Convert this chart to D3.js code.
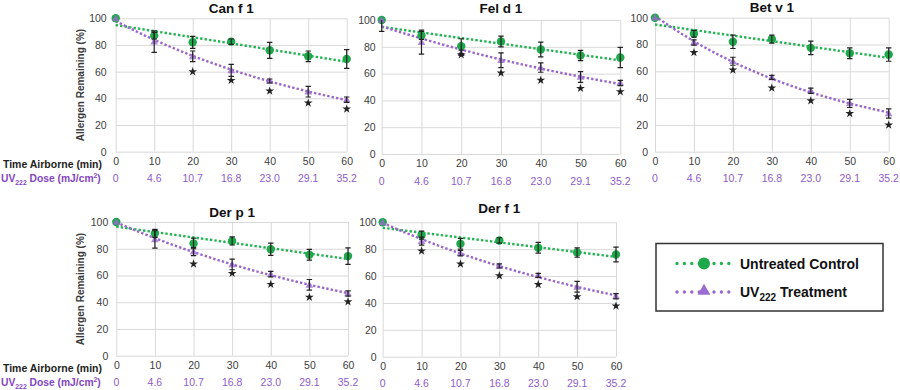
<!DOCTYPE html>
<html><head><meta charset="utf-8">
<script src="https://cdn.jsdelivr.net/npm/d3@7"></script>
<style>body{margin:0;background:#fff} svg{display:block;font-family:"Liberation Sans",Arial,sans-serif}</style>
</head><body><svg id="c" width="900" height="390"></svg>
<script>
// ---------- data ----------
const times = [0, 10, 20, 30, 40, 50, 60];
const doseLabels = ["0", "4.6", "10.7", "16.8", "23.0", "29.1", "35.2"];
const yTicks = [0, 20, 40, 60, 80, 100];
const allergens = ["Can f 1", "Fel d 1", "Bet v 1", "Der p 1", "Der f 1"];

const canf1Control    = [100, 87, 82, 82.5, 76, 71.5, 69.5];
const canf1ControlErr = [0, 2.5, 4.5, 2, 6, 4, 7];
const canf1UV         = [100, 82.5, 71.5, 61, 53, 45, 39];
const canf1UVErr      = [0, 8, 4, 4.5, 1.5, 4, 2];
const canf1Star       = [null, null, 60, 53.5, 45.5, 36.5, 32];

const feld1Control    = [100, 88.5, 80.5, 84, 78, 73.5, 72];
const feld1ControlErr = [0, 3, 5.5, 4, 5.5, 3.8, 7.5];
const feld1UV         = [100, 83.5, 75.5, 70, 64.5, 57.5, 53];
const feld1UVErr      = [8.5, 9, 2, 5.5, 3.5, 4, 2];
const feld1Star       = [null, null, 74, 60.5, 55, 49, 46.5];

const betv1Control    = [100, 88, 82, 84, 77.5, 73.5, 72.5];
const betv1ControlErr = [0, 2.5, 5, 3, 5, 4, 5];
const betv1UV         = [100, 81.5, 67.5, 55.5, 45.5, 36, 28.5];
const betv1UVErr      = [0, 2, 3, 1.5, 2, 3, 3.5];
const betv1Star       = [null, 74, 61, 47.5, 38, 28.5, 20];

const derp1Control    = [100, 91.5, 84, 85.8, 79.6, 75.5, 74.5];
const derp1ControlErr = [0, 3, 4, 3, 4.6, 4, 6.2];
const derp1UV         = [100, 87, 77.8, 68.3, 61, 53, 46.5];
const derp1UVErr      = [0, 6.5, 3, 4, 2, 4, 2];
const derp1Star       = [null, null, 68.6, 61.6, 53.4, 43.7, 40.4];

const derf1Control    = [100, 90.5, 84, 86.5, 81, 77.5, 76];
const derf1ControlErr = [0, 3, 4, 2, 4, 3.5, 5.5];
const derf1UV         = [100, 86, 77, 67.5, 60.5, 52, 45];
const derf1UVErr      = [0, 3, 2, 1.5, 1.5, 4, 2];
const derf1Star       = [null, 78.7, 69, 60.3, 53.8, 44.7, 37.7];

const seriesNames = ["Untreated Control", "UV", "222", " Treatment"];

// ---------- layout / style ----------
const GREEN = "#1ea84c", GREEN_LINE = "#24b352";
const PURPLE = "#9a6bd0", PURPLE_LINE = "#9966cc";
const DOSE_COL = "#8d5cc8";
const layout = [
  {x0: 115.7, x1: 346.7, yT: 18.3, yB: 151.7, titleY: 13, gap: 9, left: true, yTitle: 85},
  {x0: 381.7, x1: 620.3, yT: 20.0, yB: 154.0, titleY: 13, gap: 6},
  {x0: 655.0, x1: 888.7, yT: 17.7, yB: 151.7, titleY: 12, gap: 7},
  {x0: 116.3, x1: 348.0, yT: 222.0, yB: 355.7, titleY: 217, gap: 8, left: true, yTitle: 289},
  {x0: 382.7, x1: 616.0, yT: 222.3, yB: 356.7, titleY: 213, gap: 6}
];
const panelData = [
  [canf1Control, canf1ControlErr, canf1UV, canf1UVErr, canf1Star],
  [feld1Control, feld1ControlErr, feld1UV, feld1UVErr, feld1Star],
  [betv1Control, betv1ControlErr, betv1UV, betv1UVErr, betv1Star],
  [derp1Control, derp1ControlErr, derp1UV, derp1UVErr, derp1Star],
  [derf1Control, derf1ControlErr, derf1UV, derf1UVErr, derf1Star]
];

const svg = d3.select("#c");
const defs = svg.append("defs");

// regression helpers (Excel-style trendlines)
function linFit(xs, ys) {
  const mx = d3.mean(xs), my = d3.mean(ys);
  let sxy = 0, sxx = 0;
  xs.forEach((x, i) => { sxy += (x - mx) * (ys[i] - my); sxx += (x - mx) ** 2; });
  const b = sxy / sxx; return {a: my - b * mx, b};
}
function expFit(xs, ys) {
  const f = linFit(xs, ys.map(Math.log));
  return t => Math.exp(f.a + f.b * t);
}

allergens.forEach((name, pi) => {
  const L = layout[pi];
  const [ctl, ctlErr, uv, uvErr, star] = panelData[pi];
  const x = d3.scaleLinear().domain([0, 60]).range([L.x0, L.x1]);
  const y = d3.scaleLinear().domain([0, 100]).range([L.yB, L.yT]);
  const g = svg.append("g");

  // grid
  const yAxis = d3.axisLeft(y).tickValues(yTicks).tickSize(-(L.x1 - L.x0)).tickPadding(L.gap);
  const gy = g.append("g").attr("transform", `translate(${L.x0},0)`).call(yAxis);
  gy.select(".domain").remove();
  gy.selectAll("line").attr("stroke", "#d9d9d9").attr("stroke-width", 1);
  gy.selectAll("text").attr("fill", "#404040").attr("font-size", 10.5);

  const xAxis = d3.axisBottom(x).tickValues(times).tickSize(-(L.yB - L.yT)).tickPadding(6);
  const gx = g.append("g").attr("transform", `translate(0,${L.yB})`).call(xAxis);
  gx.select(".domain").remove();
  gx.selectAll("line").attr("stroke", "#d9d9d9").attr("stroke-width", 1);
  gx.selectAll("text").attr("fill", "#404040").attr("font-size", 10.5);

  // dose row
  g.append("g").selectAll("text").data(times).join("text")
    .attr("x", d => x(d)).attr("y", L.yB + 30.5)
    .attr("text-anchor", "middle").attr("font-size", 10.5).attr("fill", DOSE_COL)
    .text((d, i) => doseLabels[i]);

  // title
  g.append("text").attr("x", (L.x0 + L.x1) / 2).attr("y", L.titleY)
    .attr("text-anchor", "middle").attr("font-size", 13.5).attr("font-weight", "bold")
    .attr("fill", "#111").text(name);

  if (L.left) {
    g.append("text").attr("transform", `translate(84,${L.yTitle}) rotate(-90)`)
      .attr("text-anchor", "middle").attr("font-size", 10).attr("font-weight", "bold")
      .attr("fill", "#3a3a3a").text("Allergen Remaining (%)");
    g.append("text").attr("x", 3).attr("y", L.yB + 16)
      .attr("font-size", 10.5).attr("font-weight", "bold")
      .attr("textLength", 99).attr("lengthAdjust", "spacingAndGlyphs")
      .attr("fill", "#222").text("Time Airborne (min)");
    const t = g.append("text").attr("x", 1).attr("y", L.yB + 30.5)
      .attr("font-size", 10.5).attr("font-weight", "bold")
      .attr("fill", "#8246c0");
    t.append("tspan").text("UV");
    t.append("tspan").attr("font-size", 7).attr("dy", 3).text("222");
    t.append("tspan").attr("dy", -3).text(" Dose (mJ/cm");
    t.append("tspan").attr("font-size", 7).attr("dy", -4).text("2");
    t.append("tspan").attr("dy", 4).text(")");
    // fit the dose label into the space left of the axis
    const bb = t.node().getBBox();
    if (bb.width > 100) t.attr("transform", `translate(1,0) scale(${100 / bb.width},1) translate(-1,0)`);
  }

  // trendlines
  const lf = linFit(times, ctl);
  const ef = expFit(times, uv);
  const samples = d3.range(0, 60.01, 1);
  const line = d3.line().x(d => x(d[0])).y(d => y(d[1]));
  g.append("path").attr("d", line(samples.map(t => [t, lf.a + lf.b * t])))
    .attr("fill", "none").attr("stroke", GREEN_LINE).attr("stroke-width", 2.4)
    .attr("stroke-dasharray", "2.4,2.1");
  g.append("path").attr("d", line(samples.map(t => [t, ef(t)])))
    .attr("fill", "none").attr("stroke", PURPLE_LINE).attr("stroke-width", 2.4)
    .attr("stroke-dasharray", "2.4,2.1");

  // markers
  g.append("g").selectAll("circle").data(times).join("circle")
    .attr("cx", d => x(d)).attr("cy", (d, i) => y(ctl[i])).attr("r", 4.2)
    .attr("fill", GREEN);
  g.append("g").selectAll("path").data(times).join("path")
    .attr("transform", (d, i) => `translate(${x(d)},${y(uv[i]) + 0.6})`)
    .attr("d", d3.symbol(d3.symbolTriangle).size(26)())
    .attr("fill", PURPLE).attr("fill-opacity", 0.8);

  // error bars (clipped to plot area)
  const cid = "clip" + pi;
  defs.append("clipPath").attr("id", cid).append("rect")
    .attr("x", L.x0 - 10).attr("y", L.yT).attr("width", L.x1 - L.x0 + 20).attr("height", L.yB - L.yT);
  const eg = g.append("g").attr("clip-path", `url(#${cid})`);
  [[ctl, ctlErr], [uv, uvErr]].forEach(([m, e]) => {
    times.forEach((t, i) => {
      if (!e[i]) return;
      const cx = x(t), yt = y(m[i] + e[i]), yb = y(m[i] - e[i]);
      const p = `M${cx},${yt}V${yb}M${cx - 2.7},${yt}H${cx + 2.7}M${cx - 2.7},${yb}H${cx + 2.7}`;
      eg.append("path").attr("d", p).attr("stroke", "#222").attr("stroke-width", 1.2).attr("fill", "none");
    });
  });

  // significance stars
  g.append("g").selectAll("path").data(times.filter((t, i) => star[i] != null)).join("path")
    .attr("transform", d => `translate(${x(d)},${y(star[times.indexOf(d)])})`)
    .attr("d", d3.symbol(d3.symbolStar).size(24)())
    .attr("fill", "#222");
});

// ---------- legend ----------
const lg = svg.append("g");
lg.append("rect").attr("x", 656).attr("y", 243.5).attr("width", 227).attr("height", 67.5)
  .attr("fill", "#fff").attr("stroke", "#333").attr("stroke-width", 1.5);
[[263.5, GREEN, "circle"], [292, PURPLE, "tri"]].forEach(([ly, col, shape], k) => {
  lg.append("line").attr("x1", 677).attr("x2", 733).attr("y1", ly).attr("y2", ly)
    .attr("stroke", k ? PURPLE_LINE : GREEN_LINE).attr("stroke-width", 3.4)
    .attr("stroke-linecap", "round").attr("stroke-dasharray", "0,7.4");
  if (shape === "circle") lg.append("circle").attr("cx", 704).attr("cy", ly).attr("r", 6).attr("fill", col);
  else lg.append("path").attr("transform", `translate(704,${ly - 1})`)
    .attr("d", d3.symbol(d3.symbolTriangle).size(70)()).attr("fill", col);
});
lg.append("text").attr("x", 740).attr("y", 268.5).attr("font-size", 14).attr("font-weight", "bold")
  .attr("fill", "#111").text(seriesNames[0]);
const lt = lg.append("text").attr("x", 740).attr("y", 297).attr("font-size", 14).attr("font-weight", "bold").attr("fill", "#111");
lt.append("tspan").text(seriesNames[1]);
lt.append("tspan").attr("font-size", 10).attr("dy", 4).text(seriesNames[2]);
lt.append("tspan").attr("dy", -4).text(seriesNames[3]);
</script></body></html>
